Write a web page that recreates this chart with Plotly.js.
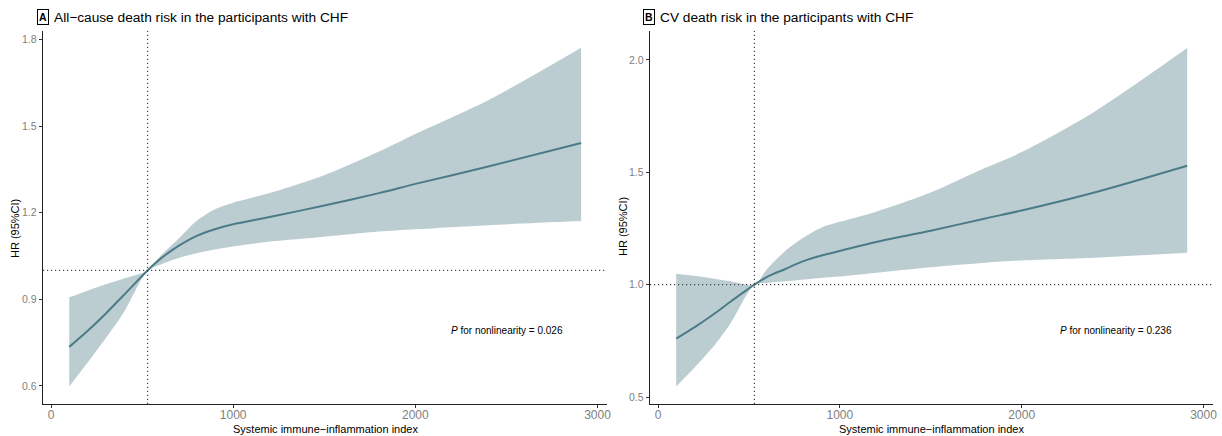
<!DOCTYPE html>
<html>
<head>
<meta charset="utf-8">
<script src="https://cdn.plot.ly/plotly-3.0.1.min.js"></script>
<style>html,body{margin:0;padding:0;background:#fff;}#chart{width:1222px;height:436px;}</style>
</head>
<body>
<div id="chart"></div>
<script>
// Panel A: all-cause death
const sii = [100, 200, 300, 400, 530, 600, 700, 800, 900, 1000, 1200, 1500, 1800, 2000, 2400, 2910];
const hrA = [0.735, 0.79, 0.85, 0.915, 1.0, 1.04, 1.085, 1.12, 1.143, 1.16, 1.185, 1.225, 1.268, 1.30, 1.36, 1.442];
const upA = [0.907, 0.93, 0.952, 0.972, 1.0, 1.05, 1.11, 1.172, 1.212, 1.235, 1.268, 1.33, 1.412, 1.473, 1.59, 1.772];
const loA = [0.598, 0.68, 0.765, 0.855, 1.0, 1.02, 1.043, 1.06, 1.073, 1.083, 1.10, 1.117, 1.135, 1.143, 1.157, 1.171];
// Panel B: CV death
const hrB = [0.76, 0.81, 0.865, 0.925, 1.0, 1.035, 1.07, 1.105, 1.13, 1.15, 1.19, 1.24, 1.295, 1.33, 1.41, 1.529];
const upB = [1.049, 1.04, 1.028, 1.015, 1.0, 1.07, 1.15, 1.21, 1.255, 1.28, 1.325, 1.41, 1.52, 1.59, 1.77, 2.053];
const loB = [0.547, 0.63, 0.72, 0.83, 1.0, 1.008, 1.015, 1.023, 1.03, 1.036, 1.053, 1.078, 1.098, 1.108, 1.12, 1.142];
const refSII = 530;
const xTicks = [0, 1000, 2000, 3000];
const yTicksA = [0.6, 0.9, 1.2, 1.5, 1.8];
const yTicksB = [0.5, 1.0, 1.5, 2.0];
const yTickTextB = ['0.5', '1.0', '1.5', '2.0'];

const W = 1222, H = 436;
const px = v => v / W, py = v => 1 - v / H;
const lineCol = '#4b7b87', fillCol = '#bccdd2';
const font = 'Liberation Sans, Arial, sans-serif';

function band(lo, up, xa, ya) {
  return [
    {x: sii, y: lo, xaxis: xa, yaxis: ya, type: 'scatter', mode: 'lines', line: {width: 0, color: fillCol, shape: 'spline', smoothing: 0.8}, hoverinfo: 'skip', showlegend: false},
    {x: sii, y: up, xaxis: xa, yaxis: ya, type: 'scatter', mode: 'lines', line: {width: 0, color: fillCol, shape: 'spline', smoothing: 0.8}, fill: 'tonexty', fillcolor: fillCol, showlegend: false}
  ];
}
const data = [
  ...band(loA, upA, 'x', 'y'),
  {x: sii, y: hrA, xaxis: 'x', yaxis: 'y', type: 'scatter', mode: 'lines', line: {width: 2, color: lineCol, shape: 'spline', smoothing: 0.8}, showlegend: false},
  ...band(loB, upB, 'x2', 'y2'),
  {x: sii, y: hrB, xaxis: 'x2', yaxis: 'y2', type: 'scatter', mode: 'lines', line: {width: 2, color: lineCol, shape: 'spline', smoothing: 0.8}, showlegend: false}
];

const xcommon = {
  range: [-44, 3052], tickvals: xTicks, ticks: 'outside', ticklen: 3, tickcolor: '#333',
  showline: true, linecolor: '#222', linewidth: 1.3, showgrid: false, zeroline: false,
  tickfont: {family: font, size: 12, color: '#808080'}, ticklabelstandoff: -4, automargin: false
};
const ycommon = {
  ticks: 'outside', ticklen: 3, tickcolor: '#333', showline: true, linecolor: '#222', linewidth: 1.3,
  showgrid: false, zeroline: false, tickfont: {family: font, size: 10.5, color: '#808080'}, automargin: false
};
const yDom = [py(404), py(31)];
const dotLine = {color: '#444', width: 1.2, dash: '1.2px,2.8px'};

const layout = {
  width: W, height: H, margin: {l: 0, r: 0, t: 0, b: 0},
  paper_bgcolor: '#fff', plot_bgcolor: '#fff', showlegend: false,
  xaxis: Object.assign({}, xcommon, {domain: [px(43), px(607)], anchor: 'y'}),
  yaxis: Object.assign({}, ycommon, {domain: yDom, range: [0.537, 1.83], tickvals: yTicksA, anchor: 'x'}),
  xaxis2: Object.assign({}, xcommon, {domain: [px(650), px(1213)], anchor: 'y2'}),
  yaxis2: Object.assign({}, ycommon, {domain: yDom, range: [0.469, 2.129], tickvals: yTicksB, ticktext: yTickTextB, anchor: 'x2'}),
  shapes: [
    {type: 'line', xref: 'x', yref: 'y domain', x0: refSII, x1: refSII, y0: 0, y1: 1, line: dotLine},
    {type: 'line', xref: 'x domain', yref: 'y', x0: 0, x1: 1, y0: 1, y1: 1, line: dotLine},
    {type: 'line', xref: 'x2', yref: 'y2 domain', x0: refSII, x1: refSII, y0: 0, y1: 1, line: dotLine},
    {type: 'line', xref: 'x2 domain', yref: 'y2', x0: 0, x1: 1, y0: 1, y1: 1, line: dotLine}
  ],
  annotations: [
    {xref: 'paper', yref: 'paper', x: px(37), y: py(17), xanchor: 'left', yanchor: 'middle', text: '<b>A</b>', showarrow: false,
     font: {family: font, size: 10.5, color: '#000'}, bordercolor: '#000', borderwidth: 1, borderpad: 1},
    {xref: 'paper', yref: 'paper', x: px(52), y: py(17), xanchor: 'left', yanchor: 'middle', text: 'All−cause death risk in the participants with CHF', showarrow: false,
     font: {family: font, size: 13.7, color: '#000'}},
    {xref: 'paper', yref: 'paper', x: px(643), y: py(17), xanchor: 'left', yanchor: 'middle', text: '<b>B</b>', showarrow: false,
     font: {family: font, size: 10.5, color: '#000'}, bordercolor: '#000', borderwidth: 1, borderpad: 1},
    {xref: 'paper', yref: 'paper', x: px(658), y: py(17), xanchor: 'left', yanchor: 'middle', text: 'CV death risk in the participants with CHF', showarrow: false,
     font: {family: font, size: 13.7, color: '#000'}},
    {xref: 'paper', yref: 'paper', x: px(325), y: py(429), xanchor: 'center', yanchor: 'middle', text: 'Systemic immune−inflammation index', showarrow: false,
     font: {family: font, size: 11, color: '#000'}},
    {xref: 'paper', yref: 'paper', x: px(932), y: py(429), xanchor: 'center', yanchor: 'middle', text: 'Systemic immune−inflammation index', showarrow: false,
     font: {family: font, size: 11, color: '#000'}},
    {xref: 'paper', yref: 'paper', x: px(15), y: py(229), xanchor: 'center', yanchor: 'middle', textangle: -90, text: 'HR (95%CI)', showarrow: false,
     font: {family: font, size: 11, color: '#000'}},
    {xref: 'paper', yref: 'paper', x: px(623), y: py(227), xanchor: 'center', yanchor: 'middle', textangle: -90, text: 'HR (95%CI)', showarrow: false,
     font: {family: font, size: 11, color: '#000'}},
    {xref: 'paper', yref: 'paper', x: px(507), y: py(330), xanchor: 'center', yanchor: 'middle', text: '<i>P</i> for nonlinearity = 0.026', showarrow: false,
     font: {family: font, size: 10, color: '#000'}},
    {xref: 'paper', yref: 'paper', x: px(1116), y: py(330), xanchor: 'center', yanchor: 'middle', text: '<i>P</i> for nonlinearity = 0.236', showarrow: false,
     font: {family: font, size: 10, color: '#000'}}
  ]
};
Plotly.newPlot('chart', data, layout, {displayModeBar: false, staticPlot: true});
</script>
</body>
</html>
